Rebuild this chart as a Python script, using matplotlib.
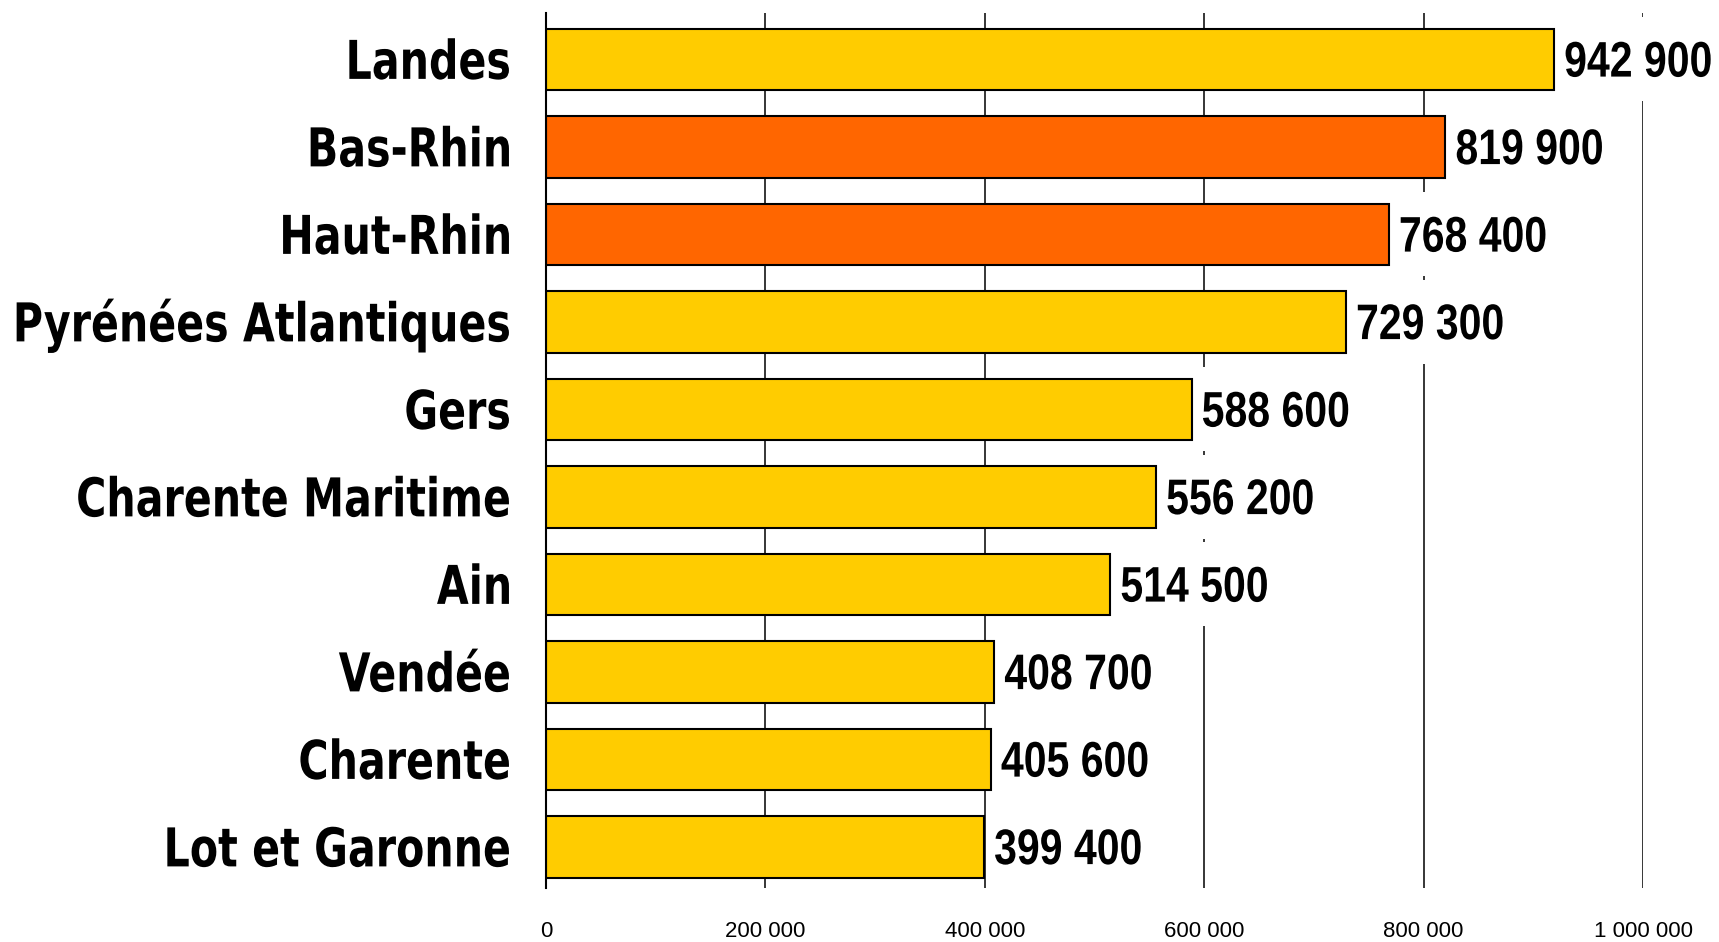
import matplotlib
matplotlib.use("Agg")
import matplotlib.pyplot as plt
from matplotlib.textpath import TextPath
from matplotlib.patches import PathPatch, Rectangle
from matplotlib.font_manager import FontProperties
from matplotlib.transforms import Affine2D, IdentityTransform

# departments, top to bottom
departements = ["Landes", "Bas-Rhin", "Haut-Rhin", "Pyrénées Atlantiques", "Gers",
                "Charente Maritime", "Ain", "Vendée", "Charente", "Lot et Garonne"]
# printed values
valeurs = [942900, 819900, 768400, 729300, 588600, 556200, 514500, 408700, 405600, 399400]
# bar lengths as drawn (Landes bar is drawn shorter than its label in the original)
longueurs = [919000, 819900, 768400, 729300, 588600, 556200, 514500, 408700, 405600, 399400]
couleurs = ["#FFCC00", "#FF6600", "#FF6600", "#FFCC00", "#FFCC00",
            "#FFCC00", "#FFCC00", "#FFCC00", "#FFCC00", "#FFCC00"]
xticks = [0, 200000, 400000, 600000, 800000, 1000000]

def fmt(v):
    return f"{v:,}".replace(",", " ")

# condensed text drawn as paths (no narrow fonts available)
def texte(ax, s, x, y, size, sx, prop, ha="left", ref="H", zorder=5):
    tp = TextPath((0, 0), s, size=size, prop=prop)
    ext = tp.get_extents()
    cap = TextPath((0, 0), ref, size=size, prop=prop).get_extents()
    w = ext.x1 * sx
    x0 = x if ha == "left" else x - w
    y0 = y - (cap.y0 + cap.y1) / 2
    tr = Affine2D().scale(sx, 1).translate(x0, y0)
    ax.add_patch(PathPatch(tr.transform_path(tp), facecolor="black", edgecolor="none",
                           transform=IdentityTransform(), clip_on=False, zorder=zorder))
    return x0, x0 + w

fig = plt.figure(figsize=(17.19, 9.42), dpi=100)
ax = fig.add_axes([0.3176, 0.0573, 0.6382, 0.9289])

ypos = list(range(len(departements)))
ax.barh(ypos, longueurs, height=0.70, color=couleurs, edgecolor="black",
        linewidth=1.5, zorder=3)

ax.set_xlim(0, 1000000)
ax.set_ylim(9.47, -0.53)
ax.set_xticks(xticks)
ax.set_xticklabels([fmt(t) for t in xticks], family="Liberation Sans", fontsize=16)
ax.set_yticks(ypos)
ax.tick_params(axis="x", length=0, pad=24)
ax.tick_params(axis="y", length=0, labelleft=False)

ax.set_axisbelow(True)
ax.grid(axis="x", color="black", linewidth=1.1)
ax.grid(axis="y", visible=False)
for s in ["top", "right", "bottom"]:
    ax.spines[s].set_visible(False)
ax.spines["left"].set_linewidth(1.5)
ax.spines["left"].set_zorder(4)

p_val = FontProperties(family="Liberation Sans", weight="bold")
p_cat = FontProperties(family="DejaVu Sans", weight="bold")

x_axe = ax.transData.transform((0, 0))[0]
for y, nom, l, v in zip(ypos, departements, longueurs, valeurs):
    px, py = ax.transData.transform((l, y))
    a, b = texte(ax, fmt(v), px + 10, py, 50, 0.82, p_val, ref="0")
    ax.add_patch(Rectangle((px + 3, py - 42), b + 8 - px - 3, 84, facecolor="white",
                           edgecolor="none", transform=IdentityTransform(),
                           clip_on=False, zorder=2.5))
    texte(ax, nom, x_axe - 37, py, 53.5, 0.77, p_cat, ha="right")

plt.savefig("out.png", dpi=100)
